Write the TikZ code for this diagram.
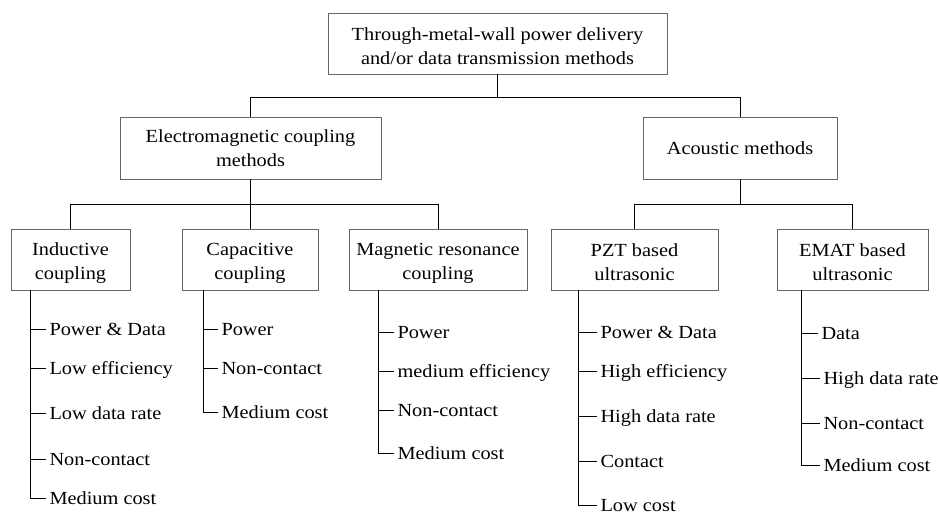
\documentclass[tikz,border=0pt]{standalone}
\usepackage{fontspec}
\setmainfont{Liberation Serif}[FakeStretch=1.1]
\newcommand{\dropline}{\rule{0pt}{19pt}}
\begin{document}
\begin{tikzpicture}[x=1pt,y=-1pt,
  every node/.style={font=\fontsize{18.5}{24}\selectfont},
  box/.style={draw=black!60,line width=0.9pt,align=center,inner sep=0pt,minimum height=61pt},
  leaf/.style={anchor=west,inner sep=0pt,outer xsep=3.5pt,text height=15pt,text depth=3pt},
  conn/.style={draw=black,line width=0.9pt}]
\useasboundingbox (0,0) rectangle (940,515);
% boxes
\node[box,minimum width=339pt] (top) at (497.5,43.5) {\dropline Through-metal-wall power delivery\\and/or data transmission methods};
\node[box,minimum width=261pt,minimum height=62pt] (em) at (250.5,148) {Electromagnetic coupling\\methods};
\node[box,minimum width=194pt,minimum height=62pt] (ac) at (740,148) {Acoustic methods};
\node[box,minimum width=119pt] (ind) at (70.5,259.5) {\dropline Inductive\\coupling};
\node[box,minimum width=136pt] (cap) at (250,259.5) {\dropline Capacitive\\coupling};
\node[box,minimum width=178pt] (mag) at (438,259.5) {\dropline Magnetic resonance\\coupling};
\node[box,minimum width=167pt] (pzt) at (634.5,259.5) {\dropline PZT based\\ultrasonic};
\node[box,minimum width=151pt] (emat) at (852.5,259.5) {\dropline EMAT based\\ultrasonic};
% bus levels
\coordinate (bus1) at (0,97);
\coordinate (bus2) at (0,204);
\draw[conn] (top.south) -- (top.south |- bus1);
\draw[conn] (em.north) -- (em.north |- bus1) -- (ac.north |- bus1) -- (ac.north);
\draw[conn] (em.south) -- (em.south |- bus2);
\draw[conn] (ind.north) -- (ind.north |- bus2) -- (mag.north |- bus2) -- (mag.north);
\draw[conn] (cap.north) -- (cap.north |- bus2);
\draw[conn] (ac.south) -- (ac.south |- bus2);
\draw[conn] (pzt.north) -- (pzt.north |- bus2) -- (emat.north |- bus2) -- (emat.north);
% inductive list
\coordinate (indv) at (30,290);
\node[leaf] (i1) at (46,329) {Power \& Data};
\node[leaf] (i2) at (46,368) {Low efficiency};
\node[leaf] (i3) at (46,413) {Low data rate};
\node[leaf] (i4) at (46,459) {Non-contact};
\node[leaf] (i5) at (46,498) {Medium cost};
\draw[conn] (indv) |- (i5.west);
\foreach \n in {i1,i2,i3,i4} \draw[conn] (indv |- \n.west) -- (\n.west);
% capacitive list
\coordinate (capv) at (203,290);
\node[leaf] (c1) at (218,329) {Power};
\node[leaf] (c2) at (218,368) {Non-contact};
\node[leaf] (c3) at (218,412) {Medium cost};
\draw[conn] (capv) |- (c3.west);
\foreach \n in {c1,c2} \draw[conn] (capv |- \n.west) -- (\n.west);
% magnetic list
\coordinate (magv) at (378,290);
\node[leaf] (m1) at (394,332) {Power};
\node[leaf] (m2) at (394,371) {medium efficiency};
\node[leaf] (m3) at (394,410) {Non-contact};
\node[leaf] (m4) at (394,453) {Medium cost};
\draw[conn] (magv) |- (m4.west);
\foreach \n in {m1,m2,m3} \draw[conn] (magv |- \n.west) -- (\n.west);
% PZT list
\coordinate (pztv) at (578,290);
\node[leaf] (p1) at (597,332) {Power \& Data};
\node[leaf] (p2) at (597,371) {High efficiency};
\node[leaf] (p3) at (597,416) {High data rate};
\node[leaf] (p4) at (597,461) {Contact};
\node[leaf] (p5) at (597,505) {Low cost};
\draw[conn] (pztv) |- (p5.west);
\foreach \n in {p1,p2,p3,p4} \draw[conn] (pztv |- \n.west) -- (\n.west);
% EMAT list
\coordinate (ematv) at (801,290);
\node[leaf] (e1) at (818,333) {Data};
\node[leaf] (e2) at (820,378) {High data rate};
\node[leaf] (e3) at (820,423) {Non-contact};
\node[leaf] (e4) at (820,465) {Medium cost};
\draw[conn] (ematv) |- (e4.west);
\foreach \n in {e1,e2,e3} \draw[conn] (ematv |- \n.west) -- (\n.west);
\end{tikzpicture}
\end{document}
